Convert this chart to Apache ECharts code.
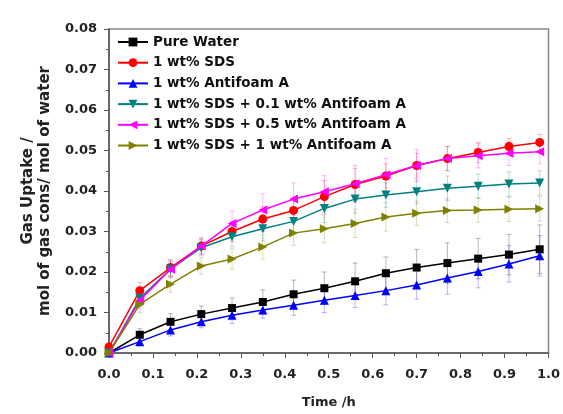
<!DOCTYPE html>
<html>
<head>
<meta charset="utf-8">
<script src="https://cdn.jsdelivr.net/npm/echarts@6/dist/echarts.min.js"></script>
<style>
  html, body { margin: 0; padding: 0; background: #fff; }
  #main { width: 563px; height: 414px; }
</style>
</head>
<body>
<div id="main"></div>
<script>
// time points (h)
const times = [0, 0.07, 0.14, 0.21, 0.28, 0.35, 0.42, 0.49, 0.56, 0.63, 0.70, 0.77, 0.84, 0.91, 0.98];

const names = [
  'Pure Water',
  '1 wt% SDS',
  '1 wt% Antifoam A',
  '1 wt% SDS + 0.1 wt% Antifoam A',
  '1 wt% SDS + 0.5 wt% Antifoam A',
  '1 wt% SDS + 1 wt% Antifoam A'
];

// gas uptake, mol gas / mol water
const pureWater = [0, 0.0045, 0.0077, 0.0096, 0.0111, 0.0126, 0.0145, 0.016, 0.0177, 0.0197, 0.0211, 0.0222, 0.0233, 0.0243, 0.0256];
const sds       = [0.0015, 0.0154, 0.0211, 0.0264, 0.030, 0.0331, 0.0352, 0.0386, 0.0416, 0.0437, 0.0463, 0.048, 0.0495, 0.051, 0.052];
const antifoam  = [0, 0.0028, 0.0057, 0.0077, 0.0093, 0.0106, 0.0118, 0.013, 0.0142, 0.0154, 0.0168, 0.0185, 0.0201, 0.022, 0.024];
const sdsAf01   = [0, 0.0135, 0.0207, 0.026, 0.0287, 0.0307, 0.0325, 0.0357, 0.038, 0.039, 0.0398, 0.0407, 0.0412, 0.0417, 0.042];
const sdsAf05   = [0, 0.013, 0.0207, 0.0264, 0.032, 0.0353, 0.038, 0.0398, 0.0418, 0.044, 0.0463, 0.048, 0.0487, 0.0493, 0.0497];
const sdsAf1    = [0, 0.012, 0.017, 0.0215, 0.0232, 0.0262, 0.0296, 0.0307, 0.032, 0.0336, 0.0345, 0.0352, 0.0353, 0.0355, 0.0356];

// error bar half-widths
const errPure  = [0, 0.0015, 0.002, 0.002, 0.0025, 0.003, 0.0035, 0.004, 0.0045, 0.004, 0.0045, 0.005, 0.005, 0.005, 0.006];
const errSds   = [0, 0.002, 0.002, 0.002, 0.0025, 0.003, 0.003, 0.004, 0.004, 0.003, 0.003, 0.003, 0.0025, 0.002, 0.002];
const errAf    = [0, 0.001, 0.0015, 0.0015, 0.002, 0.002, 0.0025, 0.003, 0.003, 0.0035, 0.0035, 0.004, 0.004, 0.0045, 0.005];
const errAf01  = [0, 0.002, 0.002, 0.002, 0.0025, 0.003, 0.003, 0.0035, 0.0035, 0.003, 0.003, 0.003, 0.003, 0.003, 0.003];
const errAf05  = [0, 0.002, 0.002, 0.002, 0.003, 0.004, 0.004, 0.004, 0.0045, 0.004, 0.004, 0.003, 0.003, 0.003, 0.003];
const errAf1   = [0, 0.002, 0.002, 0.002, 0.0025, 0.003, 0.003, 0.0035, 0.0035, 0.0035, 0.003, 0.003, 0.003, 0.003, 0.003];

const yTicks = ['0.00', '0.01', '0.02', '0.03', '0.04', '0.05', '0.06', '0.07', '0.08'];

const colors = ['#000000', '#ff0000', '#0000ff', '#008080', '#ff00ff', '#808000'];
const values = [pureWater, sds, antifoam, sdsAf01, sdsAf05, sdsAf1];
const errors = [errPure, errSds, errAf, errAf01, errAf05, errAf1];
const symbols = ['rect', 'circle', 'triangle', 'triangle', 'triangle', 'triangle'];
const rotates = [0, 0, 0, 180, 90, -90];

function pairs(ys) {
  return times.map((t, i) => [t, ys[i]]);
}

function errorSeries(k) {
  const data = times.map((t, i) => [t, values[k][i] - errors[k][i], values[k][i] + errors[k][i]]);
  return {
    type: 'custom',
    name: 'err' + k,
    silent: true,
    z: 1,
    data: data,
    renderItem: function (params, api) {
      const lo = api.coord([api.value(0), api.value(1)]);
      const hi = api.coord([api.value(0), api.value(2)]);
      const w = 2.5;
      const style = { stroke: colors[k], opacity: 0.28, lineWidth: 1 };
      return {
        type: 'group',
        children: [
          { type: 'line', shape: { x1: hi[0], y1: hi[1], x2: lo[0], y2: lo[1] }, style: style },
          { type: 'line', shape: { x1: hi[0] - w, y1: hi[1], x2: hi[0] + w, y2: hi[1] }, style: style },
          { type: 'line', shape: { x1: lo[0] - w, y1: lo[1], x2: lo[0] + w, y2: lo[1] }, style: style }
        ]
      };
    }
  };
}

let series = [];
for (let k = 0; k < 6; k++) series.push(errorSeries(k));
for (let k = 0; k < 6; k++) {
  series.push({
    name: names[k],
    type: 'line',
    data: pairs(values[k]),
    symbol: symbols[k],
    symbolSize: k === 0 ? 8 : 9,
    symbolRotate: rotates[k],
    showAllSymbol: true,
    z: 3 + k,
    lineStyle: { color: colors[k], width: 1.5 },
    itemStyle: { color: colors[k] }
  });
}

const axisFont = { fontFamily: 'DejaVu Sans', fontWeight: 'bold', color: '#222', fontSize: 13 };

let myChart = echarts.init(document.getElementById('main'));
myChart.setOption({
  animation: false,
  backgroundColor: '#fff',
  grid: { left: 109, right: 14, top: 29, bottom: 60, show: true, borderColor: '#888', borderWidth: 1.5 },
  legend: {
    data: names,
    orient: 'vertical',
    left: 117,
    top: 34,
    padding: 0,
    itemWidth: 30,
    itemHeight: 11,
    itemGap: 4.7,
    symbolRotate: 'inherit',
    textStyle: { fontFamily: 'DejaVu Sans', fontWeight: 'bold', fontSize: 13.5, color: '#111', lineHeight: 16 }
  },
  xAxis: {
    type: 'value',
    min: 0,
    max: 1,
    interval: 0.1,
    name: 'Time /h',
    nameLocation: 'middle',
    nameGap: 43,
    nameTextStyle: { fontFamily: 'DejaVu Sans', fontWeight: 'bold', fontSize: 13, color: '#222' },
    axisLine: { lineStyle: { color: '#555', width: 1.5 } },
    axisTick: { length: 5, lineStyle: { color: '#555' } },
    minorTick: { show: true, splitNumber: 2, length: 3, lineStyle: { color: '#555' } },
    splitLine: { show: false },
    axisLabel: Object.assign({ margin: 15, formatter: v => v.toFixed(1) }, axisFont)
  },
  yAxis: {
    type: 'value',
    min: 0,
    max: 0.08,
    interval: 0.01,
    name: 'Gas Uptake /\nmol of gas cons/ mol of water',
    nameLocation: 'middle',
    nameGap: 55,
    nameRotate: 90,
    nameTextStyle: { fontFamily: 'DejaVu Sans', fontWeight: 'bold', fontSize: 15, color: '#222', lineHeight: 17 },
    axisLine: { show: true, lineStyle: { color: '#555', width: 1.5 } },
    axisTick: { show: true, length: 5, lineStyle: { color: '#555' } },
    minorTick: { show: true, splitNumber: 2, length: 3, lineStyle: { color: '#555' } },
    splitLine: { show: false },
    axisLabel: Object.assign({ margin: 12, formatter: (v) => yTicks[Math.round(v * 100)] }, axisFont)
  },
  series: series
});
</script>
</body>
</html>
